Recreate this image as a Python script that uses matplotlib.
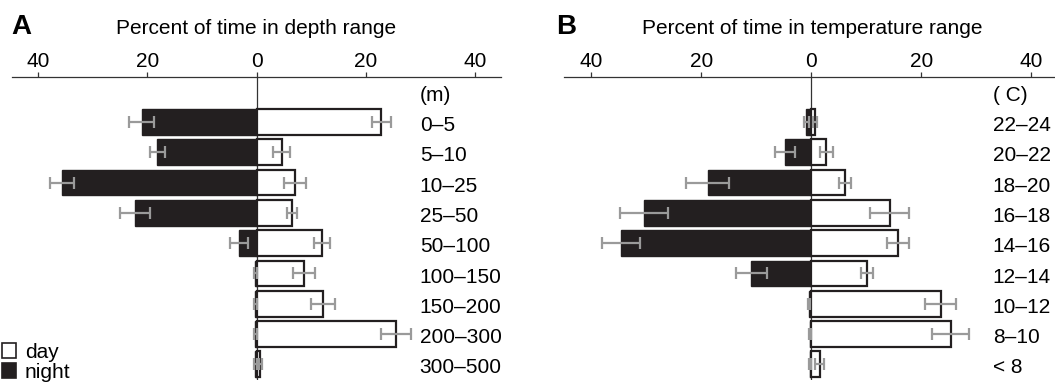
import matplotlib
matplotlib.use("Agg")
import matplotlib.pyplot as plt
from matplotlib.patches import Patch

plt.rcParams["font.family"] = ["Liberation Sans", "DejaVu Sans"]

# --- panel A: depth ---
depth_labels = ["0–5", "5–10", "10–25", "25–50", "50–100",
                "100–150", "150–200", "200–300", "300–500"]
depth_day = [22.9, 4.6, 7.1, 6.5, 12.0, 8.7, 12.1, 25.6, 0.7]
depth_day_err = [1.8, 1.5, 2.0, 1.0, 1.5, 2.0, 2.2, 2.7, 0.3]
depth_night = [21.0, 18.2, 35.7, 22.3, 3.2, 0.2, 0.2, 0.2, 0.2]
depth_night_err = [2.3, 1.4, 2.2, 2.8, 1.6, 0.2, 0.2, 0.2, 0.2]

# --- panel B: temperature ---
temp_labels = ["22–24", "20–22", "18–20", "16–18", "14–16",
               "12–14", "10–12", "8–10", "< 8"]
temp_day = [0.7, 2.7, 6.1, 14.2, 15.7, 10.1, 23.5, 25.3, 1.5]
temp_day_err = [0.4, 1.2, 1.15, 3.6, 2.0, 1.05, 2.8, 3.4, 0.85]
temp_night = [0.9, 4.8, 18.9, 30.5, 34.6, 10.9, 0.4, 0.3, 0.3]
temp_night_err = [0.4, 1.85, 4.0, 4.4, 3.5, 2.9, 0.2, 0.2, 0.2]

ticks = [-40, -20, 0, 20, 40]
tick_labels = ["40", "20", "0", "20", "40"]

DARK = "#231f20"
ERR = "#9a9a9a"
W, H = 1055, 384


def draw_panel(ax, labels, day, day_err, night, night_err, unit, xlim, label_x):
    """一个面板：左边夜间(黑)，右边白天(白)，右侧写区间标签。"""
    ys = list(range(len(labels)))
    neg_night = [-v for v in night]

    ax.axvline(0, color="#333333", lw=0.9, zorder=1)
    ax.barh(ys, neg_night, height=0.85, color=DARK, edgecolor=DARK, lw=1.0, zorder=2)
    ax.barh(ys, day, height=0.85, color="white", edgecolor=DARK, lw=1.6, zorder=2)
    ax.errorbar(neg_night, ys, xerr=night_err, fmt="none", ecolor=ERR,
                elinewidth=1.6, capsize=4.5, capthick=1.6, zorder=3)
    ax.errorbar(day, ys, xerr=day_err, fmt="none", ecolor=ERR,
                elinewidth=1.6, capsize=4.5, capthick=1.6, zorder=3)

    for y, lab in zip(ys, labels):
        ax.text(label_x, y + 0.12, lab, fontsize=15, ha="left", va="center")
    ax.text(label_x, -1 + 0.12, unit, fontsize=15, ha="left", va="center")

    ax.set_xlim(*xlim)
    ax.set_ylim(8.5, -1.485)
    for side in ("left", "right", "bottom"):
        ax.spines[side].set_visible(False)
    ax.spines["top"].set_linewidth(0.9)
    ax.spines["top"].set_color("#333333")
    ax.set_yticks([])
    ax.xaxis.tick_top()
    ax.set_xticks(ticks)
    ax.set_xticklabels(tick_labels)
    ax.tick_params(axis="x", direction="out", length=3.6, width=0.9,
                   pad=0.8, labelsize=15, color="#333333")


def main():
    fig = plt.figure(figsize=(W / 100, H / 100), dpi=100)

    top = 1 - 77 / H
    bottom = 1 - 379.5 / H
    ax_a = fig.add_axes([12 / W, bottom, (501 - 12) / W, top - bottom])
    ax_b = fig.add_axes([564 / W, bottom, (1055 - 564) / W, top - bottom])
    ax_b.patch.set_alpha(0)

    draw_panel(ax_a, depth_labels, depth_day, depth_day_err, depth_night,
               depth_night_err, "(m)", (-44.8, 44.8), 29.9)
    draw_panel(ax_b, temp_labels, temp_day, temp_day_err, temp_night,
               temp_night_err, "( C)", (-45.0, 44.3), 33.0)

    # 面板标题与字母
    title_y = 1 - 34.3 / H
    fig.text((12 + 501) / 2 / W, title_y, "Percent of time in depth range",
             fontsize=15, ha="center", va="baseline")
    fig.text(812 / W, title_y, "Percent of time in temperature range",
             fontsize=15, ha="center", va="baseline")
    fig.text(11 / W, title_y, "A", fontsize=20, fontweight="bold", va="baseline")
    fig.text(556 / W, title_y, "B", fontsize=20, fontweight="bold", va="baseline")

    handles = [Patch(facecolor="white", edgecolor=DARK, lw=1.2, label="day"),
               Patch(facecolor=DARK, edgecolor=DARK, lw=1.2, label="night")]
    fig.legend(handles=handles, loc="lower left", bbox_to_anchor=(0.0, 0.0),
               frameon=False, fontsize=15, handlelength=0.65, handleheight=0.7,
               handletextpad=0.45, labelspacing=0.05, borderpad=0.1,
               borderaxespad=0.0)

    fig.savefig("out.png", dpi=100)


if __name__ == "__main__":
    main()
